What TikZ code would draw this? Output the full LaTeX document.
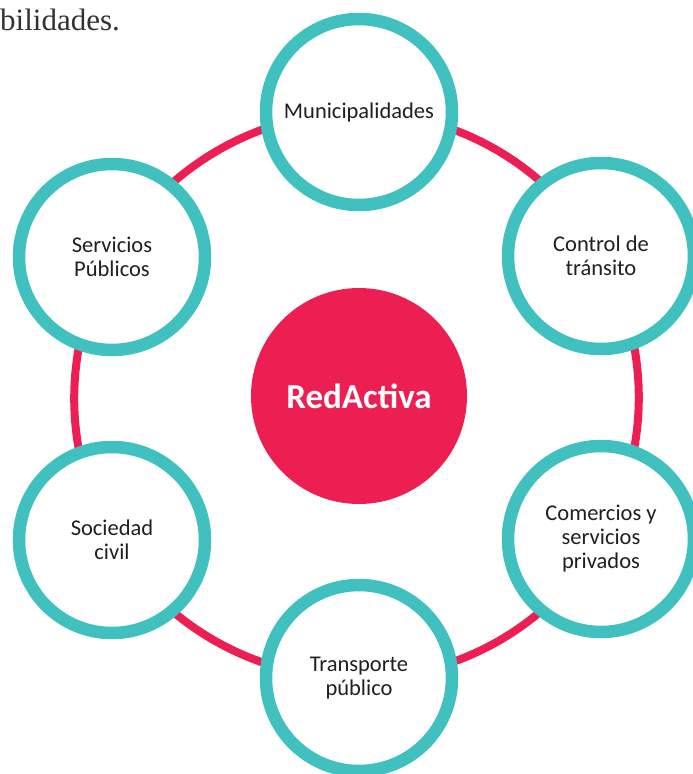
\documentclass[tikz,border=0pt]{standalone}
\usepackage{fontspec}
\setmainfont{Carlito}
\newfontfamily\serifpart{Liberation Serif}
\usetikzlibrary{backgrounds}
\definecolor{tealring}{RGB}{64,192,190}
\definecolor{rose}{RGB}{237,30,82}
\definecolor{ink}{RGB}{35,31,32}
\definecolor{bodytext}{RGB}{50,50,50}
\begin{document}
\begin{tikzpicture}[x=1pt,y=-1pt,
  member/.style={circle, draw=tealring, line width=12.5pt, fill=white,
    minimum size=186pt, inner sep=0pt, align=center,
    font=\fontsize{22.5}{24}\selectfont, text=ink},
  hub/.style={circle, fill=rose, minimum size=216pt, inner sep=0pt,
    font=\fontsize{35}{38}\selectfont\bfseries, text=white},
  link/.style={draw=rose, line width=8pt},
  arcbend/.style={bend left=30, looseness=0.913}]
\useasboundingbox (0,0) rectangle (693,774);
\clip (0,0) rectangle (693,774);
\node[anchor=base west, inner sep=0pt, font=\serifpart\fontsize{31}{32}\selectfont, text=bodytext] (tail) at (0,30) {bilidades.};
\node[hub] (hub) at (359,396) {RedActiva};
\node[member] (mun) at (359,112) {Municipalidades};
\node[member] (ctl) at (601,256) {Control de\\tránsito};
\node[member] (com) at (601,539) {Comercios y\\servicios\\privados};
\node[member] (tra) at (359,678) {Transporte\\público};
\node[member] (soc) at (112,540) {Sociedad\\civil};
\node[member] (ser) at (112,257) {Servicios\\Públicos};
\begin{pgfonlayer}{background}
\draw[link] (mun.center) to[arcbend] (ctl.center);
\draw[link] (ctl.center) to[arcbend] (com.center);
\draw[link] (com.center) to[arcbend] (tra.center);
\draw[link] (tra.center) to[arcbend] (soc.center);
\draw[link] (soc.center) to[arcbend] (ser.center);
\draw[link] (ser.center) to[arcbend] (mun.center);
\end{pgfonlayer}
\end{tikzpicture}
\end{document}
